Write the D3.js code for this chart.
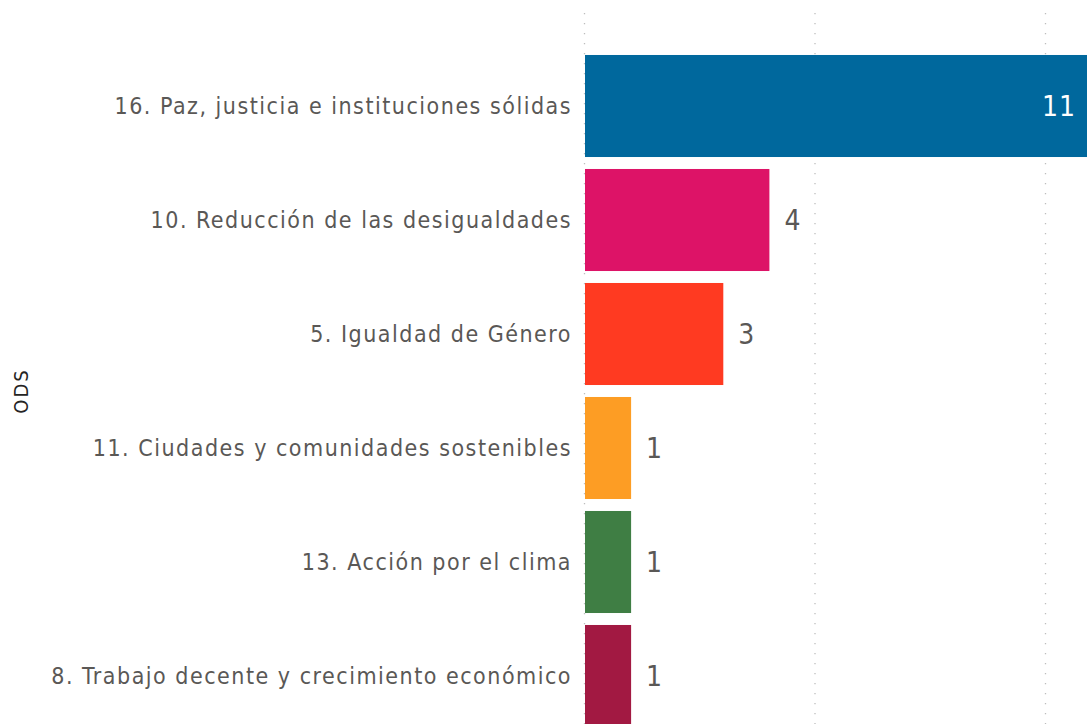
<!DOCTYPE html>
<html>
<head>
<meta charset="utf-8">
<script src="https://cdn.jsdelivr.net/npm/d3@7"></script>
<style>
  html, body { margin: 0; padding: 0; background: #ffffff; overflow: hidden; }
  svg { display: block; }
</style>
</head>
<body>
<svg id="chart" width="1087" height="724"></svg>
<script>
// Number of initiatives per Sustainable Development Goal (ODS)
const categories = [
  "16. Paz, justicia e instituciones sólidas",
  "10. Reducción de las desigualdades",
  "5. Igualdad de Género",
  "11. Ciudades y comunidades sostenibles",
  "13. Acción por el clima",
  "8. Trabajo decente y crecimiento económico"
];
const values = [11, 4, 3, 1, 1, 1];
const colors = ["#00689D", "#DD1367", "#FF3A21", "#FD9D24", "#3F7E44", "#A21942"];
const gridTicks = [0, 5, 10];
const axisTitle = "ODS";

const W = 1087, H = 724;
const left = 585;
const fontFamily = "'DejaVu Sans Condensed', 'Roboto', sans-serif";
const textColor = "#5a5856";

const svg = d3.select("#chart");

const x = d3.scaleLinear().domain([0, 10]).range([left, left + 461]);
const y = d3.scaleBand().domain(categories).range([49, 733])
  .paddingInner(0.105).paddingOuter(0.0525);

// dotted vertical gridlines
svg.append("g").selectAll("line").data(gridTicks).join("line")
  .attr("x1", d => x(d) - 0.5).attr("x2", d => x(d) - 0.5)
  .attr("y1", 13).attr("y2", H)
  .attr("stroke", "#bdbdbd").attr("stroke-width", 1.3)
  .attr("stroke-dasharray", "1.3,8.7");

// bars
svg.append("g").selectAll("rect").data(values).join("rect")
  .attr("x", x(0))
  .attr("y", (d, i) => y(categories[i]))
  .attr("width", d => x(d) - x(0))
  .attr("height", y.bandwidth())
  .attr("fill", (d, i) => colors[i]);

// category labels
const yAxis = svg.append("g")
  .attr("transform", `translate(${left - 13},0)`)
  .call(d3.axisLeft(y).tickSize(0).tickPadding(0));
yAxis.select(".domain").remove();
yAxis.selectAll("text")
  .attr("fill", textColor)
  .style("font-family", fontFamily)
  .style("font-size", "23px")
  .style("letter-spacing", "1.5px")
  .attr("dy", "0.35em");

// value labels: inside the bar when it reaches the edge, otherwise after it
svg.append("g").selectAll("text").data(values).join("text")
  .each(function (d, i) {
    const end = x(d);
    const inside = end > W - 40;
    d3.select(this)
      .attr("x", inside ? W - 11 : end + 15)
      .attr("text-anchor", inside ? "end" : "start")
      .attr("fill", inside ? "#ffffff" : textColor);
  })
  .attr("y", (d, i) => y(categories[i]) + y.bandwidth() / 2)
  .attr("dy", "0.36em")
  .style("font-family", fontFamily)
  .style("font-size", "28px")
  .style("letter-spacing", "1px")
  .text(d => d);

// axis title
svg.append("text")
  .attr("transform", `translate(21,${(49 + 733) / 2}) rotate(-90)`)
  .attr("text-anchor", "middle")
  .attr("dy", "0.35em")
  .attr("fill", "#252423")
  .style("font-family", fontFamily)
  .style("font-size", "20px")
  .style("letter-spacing", "2px")
  .text(axisTitle);
</script>
</body>
</html>
